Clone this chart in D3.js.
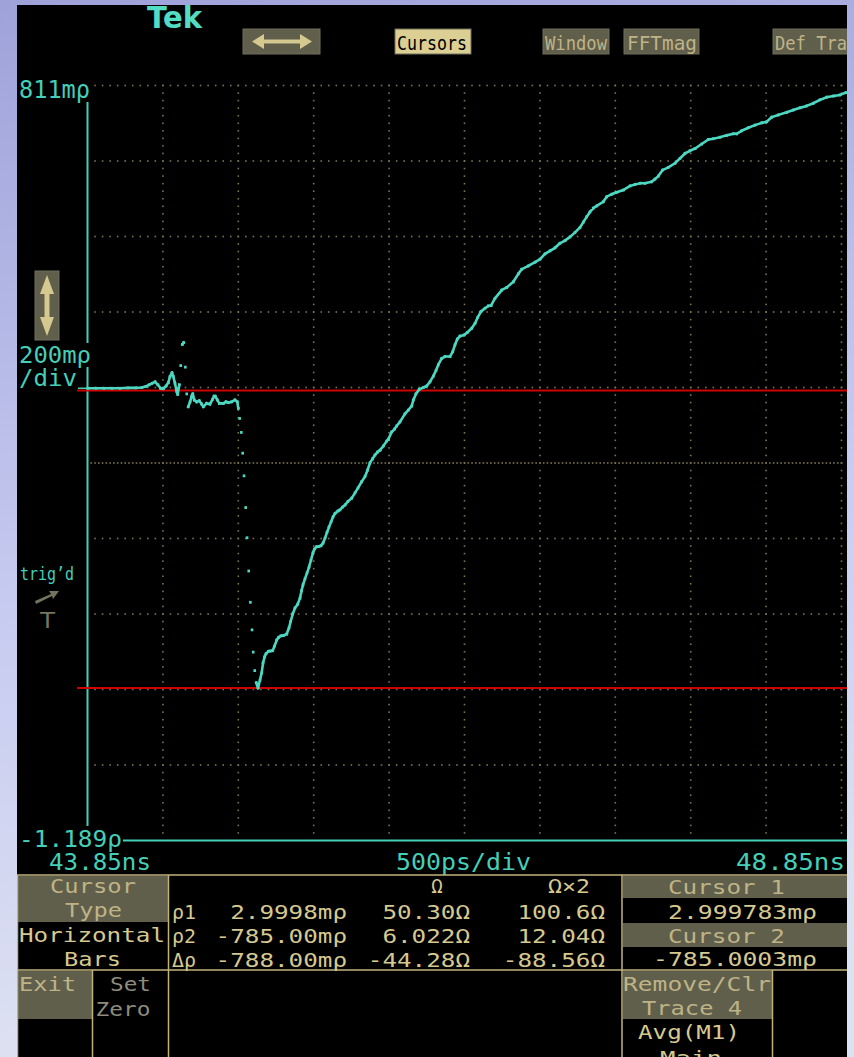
<!DOCTYPE html>
<html>
<head>
<meta charset="utf-8">
<script src="https://cdn.jsdelivr.net/npm/d3@7"></script>
<style>
  html, body { margin: 0; padding: 0; background: #fff; }
  svg { display: block; }
</style>
</head>
<body>
<svg id="scope" width="854" height="1057"></svg>
<script>
// TDR reflection trace: time (ns) and reflection coefficient (milli-rho)
const timeNs = [
  43.853, 43.906, 43.959, 44.012, 44.066, 44.119, 44.172, 44.211, 44.238, 44.258,
  44.278, 44.298, 44.317, 44.334, 44.353, 44.371, 44.386, 44.397, 44.410, 44.419,
  44.430, 44.442, 44.448, 44.459, 44.468, 44.479, 44.488, 44.499, 44.508, 44.518,
  44.530, 44.541, 44.548, 44.558, 44.574, 44.591, 44.607, 44.618, 44.640, 44.662,
  44.680, 44.689, 44.697, 44.711, 44.724, 44.751, 44.768, 44.784, 44.806, 44.828,
  44.843, 44.850, 44.859, 44.870, 44.879, 44.888, 44.899, 44.908, 44.919, 44.930,
  44.941, 44.949, 44.959, 44.969, 44.981, 44.994, 45.005, 45.014, 45.024, 45.034,
  45.049, 45.063, 45.078, 45.090, 45.105, 45.117, 45.133, 45.150, 45.171, 45.186,
  45.197, 45.211, 45.226, 45.244, 45.259, 45.269, 45.279, 45.292, 45.306, 45.319,
  45.332, 45.345, 45.355, 45.369, 45.385, 45.398, 45.412, 45.425, 45.438, 45.451,
  45.465, 45.478, 45.491, 45.511, 45.524, 45.541, 45.558, 45.577, 45.602, 45.624,
  45.644, 45.667, 45.690, 45.707, 45.723, 45.740, 45.756, 45.773, 45.790, 45.812,
  45.834, 45.845, 45.867, 45.886, 45.900, 45.922, 45.955, 45.977, 46.000, 46.011,
  46.028, 46.050, 46.077, 46.099, 46.121, 46.143, 46.161, 46.176, 46.199, 46.221,
  46.254, 46.272, 46.287, 46.302, 46.320, 46.347, 46.369, 46.398, 46.420, 46.438,
  46.459, 46.486, 46.508, 46.526, 46.552, 46.597, 46.630, 46.674, 46.707, 46.729,
  46.773, 46.818, 46.851, 46.884, 46.917, 46.950, 46.983, 47.016, 47.050, 47.083,
  47.116, 47.138, 47.160, 47.182, 47.204, 47.227, 47.270, 47.293, 47.326, 47.359,
  47.403, 47.448, 47.481, 47.514, 47.547, 47.591, 47.613, 47.635, 47.664, 47.701,
  47.746, 47.779, 47.812, 47.845, 47.879, 47.923, 47.967, 48.000, 48.044, 48.089,
  48.133, 48.155, 48.188, 48.232, 48.276, 48.321, 48.354, 48.387, 48.431, 48.487,
  48.530, 48.575, 48.619, 48.663, 48.707, 48.752, 48.796, 48.840, 48.878
];
const rhoMilli = [
  9, 9, 9, 9, 9, 10, 10, 11, 14, 18,
  22, 26, 18, 9, 8, 15, 24, 40, 50, 40,
  22, 0, -7, 18, 69, 125, 130, 65, -6, -40,
  -27, -12, -6, -22, -27, -24, -33, -40, -31, -33,
  -20, -12, -12, -22, -31, -31, -27, -29, -27, -22,
  -27, -44, -71, -108, -163, -223, -307, -387, -475, -558,
  -631, -690, -739, -771, -785, -764, -745, -719, -703, -694,
  -688, -687, -686, -674, -658, -651, -647, -646, -642, -626,
  -609, -589, -573, -563, -547, -528, -512, -496, -480, -465,
  -446, -427, -417, -411, -410, -408, -401, -388, -373, -359,
  -345, -332, -323, -316, -313, -306, -300, -291, -282, -268,
  -255, -239, -225, -208, -189, -178, -168, -160, -155, -144,
  -131, -126, -107, -99, -91, -80, -59, -49, -38, -22,
  -6, 6, 11, 15, 26, 41, 56, 71, 88, 93,
  93, 106, 124, 139, 147, 150, 157, 168, 181, 197,
  212, 221, 227, 228, 247, 269, 276, 291, 312, 324,
  333, 343, 351, 365, 373, 381, 393, 400, 410, 422,
  435, 449, 463, 476, 486, 492, 503, 516, 523, 528,
  534, 545, 549, 552, 552, 556, 563, 571, 587, 594,
  605, 618, 631, 638, 644, 656, 668, 670, 674, 679,
  683, 683, 691, 699, 706, 712, 715, 727, 733, 740,
  746, 752, 757, 764, 773, 780, 783, 786, 792
];

// Horizontal-bar cursors (milli-rho)
const cursorRho = [2.9998, -785.00];

// Scale settings
const timeStartNs = 43.85, timeEndNs = 48.85;
const rhoTop = 811, rhoBottom = -1189;
const divisions = 10;

// Labels
const yLabels = { top: "811mρ", scale: "200mρ", perDiv: "/div", bottom: "-1.189ρ" };
const xLabels = ["43.85ns", "500ps/div", "48.85ns"];
const menuTop = ["Cursors", "Window", "FFTmag", "Def Tra"];
const readRows = ["ρ1", "ρ2", "Δρ"];
const readRho = ["2.9998mρ", "-785.00mρ", "-788.00mρ"];
const readOhm = ["50.30Ω", "6.022Ω", "-44.28Ω"];
const readOhm2 = ["100.6Ω", "12.04Ω", "-88.56Ω"];
const cursorReadouts = ["2.999783mρ", "-785.0003mρ"];

const C = {
  teal: "#45cfb6",
  trace: "#4cd8c2",
  red: "#d10000",
  dot: "#7a7352",
  olive: "#5f5f4c",
  khaki: "#d6c98f",
  khakiDim: "#bfb386",
  line: "#c2b37c",
  gray: "#8d8c7d"
};
const MONO = "'DejaVu Sans Mono', monospace";

const svg = d3.select("#scope");
const defs = svg.append("defs");
const grad = defs.append("linearGradient").attr("id", "bg").attr("x1", 0).attr("y1", 0).attr("x2", 0.15).attr("y2", 1);
grad.append("stop").attr("offset", 0).attr("stop-color", "#9ea2d9");
grad.append("stop").attr("offset", 0.55).attr("stop-color", "#c6caf0");
grad.append("stop").attr("offset", 1).attr("stop-color", "#dde2f2");
defs.append("clipPath").attr("id", "screen").append("rect")
  .attr("x", 17).attr("y", 5).attr("width", 830).attr("height", 1052);

svg.append("rect").attr("width", 854).attr("height", 1057).attr("fill", "url(#bg)");
const scr = svg.append("g").attr("clip-path", "url(#screen)");
scr.append("rect").attr("x", 17).attr("y", 5).attr("width", 830).attr("height", 1052).attr("fill", "#000");

function label(g, str, x, yb, size, width, color, opts = {}) {
  const t = g.append("text")
    .attr("x", x).attr("y", yb)
    .attr("font-family", opts.family || MONO)
    .attr("font-size", size)
    .attr("font-weight", opts.weight || "normal")
    .attr("fill", color)
    .attr("text-anchor", opts.anchor || "start")
    .text(str);
  if (width) t.attr("textLength", width).attr("lengthAdjust", "spacingAndGlyphs");
  return t;
}

// Scales
const x = d3.scaleLinear().domain([timeStartNs, timeEndNs]).range([87.5, 841.5]);
const y = d3.scaleLinear().domain([rhoBottom, rhoTop]).range([840.5, 85.5]);
const divX = (x.range()[1] - x.range()[0]) / divisions;
const divY = (y.range()[0] - y.range()[1]) / divisions;

// Graticule: dotted rows and columns
const grid = scr.append("g");
const dots = [];
for (let r = 0; r < divisions; r++) {
  const yy = y(rhoTop - r * (rhoTop - rhoBottom) / divisions);
  const fine = r === divisions / 2;
  const step = fine ? divX / 20 : divX / 10;
  const n = fine ? 200 : 100;
  for (let k = 1; k <= n; k++) {
    const xx = x.range()[0] + k * step;
    if (r === 0 && xx < 92) continue;
    dots.push([xx, yy]);
  }
}
for (let c = 1; c <= divisions; c++) {
  const xx = x.range()[0] + c * divX;
  for (let k = 0; k < 100; k++) dots.push([xx, y.range()[1] + k * divY / 10]);
}
grid.selectAll("rect").data(dots).join("rect")
  .attr("x", d => d[0] - 0.8).attr("y", d => d[1] - 0.8)
  .attr("width", 1.6).attr("height", 1.6).attr("fill", C.dot);

// Axis lines
const ax = scr.append("g").attr("stroke", C.teal).attr("stroke-width", 2);
ax.append("line").attr("x1", 87.5).attr("x2", 87.5).attr("y1", 102).attr("y2", 343);
ax.append("line").attr("x1", 87.5).attr("x2", 87.5).attr("y1", 367).attr("y2", 826);
ax.append("line").attr("x1", 123).attr("x2", 847).attr("y1", y(rhoBottom)).attr("y2", y(rhoBottom));
ax.append("line").attr("x1", 78).attr("x2", 87).attr("y1", y(rhoMilli[0])).attr("y2", y(rhoMilli[0])).attr("stroke-width", 1.5);

// Cursor bars
scr.append("g").selectAll("line").data(cursorRho).join("line")
  .attr("x1", 77).attr("x2", 847)
  .attr("y1", d => y(d)).attr("y2", d => y(d))
  .attr("stroke", C.red).attr("stroke-width", 2);

// Trace: samples drawn as dots, joined unless the step between them is a fast edge
const pts = timeNs.map((t, i) => [x(t), y(rhoMilli[i])]);
let path = "";
for (let i = 1; i < pts.length; i++) {
  const [x0, y0] = pts[i - 1], [x1, y1] = pts[i];
  if (Math.abs(y1 - y0) < 9.9 && Math.abs(x1 - x0) < 10) path += `M${x0},${y0}L${x1},${y1}`;
}
const tr = scr.append("g");
tr.append("path").attr("d", path).attr("fill", "none")
  .attr("stroke", C.trace).attr("stroke-width", 2.6).attr("stroke-linecap", "square");
tr.selectAll("rect").data(pts).join("rect")
  .attr("x", d => d[0] - 1.3).attr("y", d => d[1] - 1.4)
  .attr("width", 2.6).attr("height", 2.8).attr("fill", C.trace);

// Vertical labels
label(scr, yLabels.top, 19, 97.5, 24, 71, C.teal);
label(scr, yLabels.scale, 19, 363, 23, 72, C.teal);
label(scr, yLabels.perDiv, 19, 386, 23, 58, C.teal);
label(scr, yLabels.bottom, 19, 847, 23, 103, C.teal);
label(scr, "trig’d", 20, 580, 17, 54, C.teal);

// Horizontal labels
label(scr, xLabels[0], 49, 870, 23, 102, C.teal);
label(scr, xLabels[1], 396, 870, 23, 135, C.teal);
label(scr, xLabels[2], 736, 870, 23, 109, C.teal);

// Header: logo and soft keys
label(scr, "Tek", 147, 28, 31, 55, "#52dcc4", { family: "'DejaVu Sans', sans-serif", weight: "bold" });
const keys = [
  { x: 243, w: 77, bg: C.olive },
  { x: 395, w: 76, bg: "#dccf93" },
  { x: 543, w: 66, bg: C.olive },
  { x: 624, w: 75, bg: C.olive },
  { x: 773, w: 80, bg: C.olive }
];
scr.append("g").selectAll("rect").data(keys).join("rect")
  .attr("x", d => d.x).attr("y", 29).attr("width", d => d.w).attr("height", 25)
  .attr("fill", d => d.bg).attr("stroke", "#6f6e5a").attr("stroke-width", 1);
label(scr, menuTop[0], 397, 50, 20, 70, "#000");
label(scr, menuTop[1], 545, 50, 20, 62, C.khakiDim);
label(scr, menuTop[2], 627, 50, 20, 70, C.khakiDim);
label(scr, menuTop[3], 775, 50, 20, 72, C.khakiDim);
// horizontal double arrow
scr.append("path")
  .attr("d", "M252,41.5 L264,34 L264,39.5 L300,39.5 L300,34 L312,41.5 L300,49 L300,43.5 L264,43.5 L264,49 Z")
  .attr("fill", C.khaki);

// Vertical-position key with double arrow
scr.append("rect").attr("x", 35).attr("y", 271).attr("width", 24).attr("height", 69)
  .attr("fill", C.olive).attr("stroke", "#6f6e5a");
scr.append("path")
  .attr("d", "M47,275 L54,294 L49.5,294 L49.5,317 L54,317 L47,336 L40,317 L44.5,317 L44.5,294 L40,294 Z")
  .attr("fill", C.khaki);

// Trigger indicator
scr.append("path")
  .attr("d", "M35,601 L51,594 L49,591 L59,591 L53,599 L52,596 L36,604 Z")
  .attr("fill", "#75745f");
label(scr, "T", 40, 628, 22, 15, "#75745f", { family: "'DejaVu Sans', sans-serif" });

// Bottom menu panel
const pan = scr.append("g");
const boxes = [
  [18, 876, 150, 46], [18, 971, 74, 48],
  [623, 876, 224, 22], [623, 923, 224, 24], [623, 971, 149, 48]
];
pan.selectAll("rect").data(boxes).join("rect")
  .attr("x", d => d[0]).attr("y", d => d[1]).attr("width", d => d[2]).attr("height", d => d[3])
  .attr("fill", C.olive);
const rules = [
  [17, 875, 847, 875], [17, 970, 847, 970],
  [17.5, 875, 17.5, 1057], [168.5, 875, 168.5, 1057], [622, 875, 622, 1057],
  [92.5, 970, 92.5, 1057], [772.5, 970, 772.5, 1057]
];
pan.selectAll("line").data(rules).join("line")
  .attr("x1", d => d[0]).attr("y1", d => d[1]).attr("x2", d => d[2]).attr("y2", d => d[3])
  .attr("stroke", C.line).attr("stroke-width", 1.5);

label(pan, "Cursor", 50, 892.5, 19, 86, C.khakiDim);
label(pan, "Type", 65, 917, 19, 57, C.khakiDim);
label(pan, "Horizontal", 19, 942, 19, 146, C.khaki);
label(pan, "Bars", 64, 966, 19, 57, C.khaki);
label(pan, "Exit", 19, 990.5, 19, 57, C.khakiDim);
label(pan, "Set", 110, 990.5, 19, 41, C.gray);
label(pan, "Zero", 95.5, 1015.5, 19, 55, C.gray);

// Readout table
const rowY = [919, 943, 967];
label(pan, "Ω", 437, 893, 19, null, C.khaki, { anchor: "middle" });
label(pan, "Ω×2", 548, 893, 19, 42, C.khaki);
readRows.forEach((s, i) => label(pan, s, 172, rowY[i], 19, 24, C.khaki));
readRho.forEach((s, i) => label(pan, s, 347 - s.length * 14.6, rowY[i], 19, s.length * 14.6, C.khaki));
readOhm.forEach((s, i) => label(pan, s, 470 - s.length * 14.6, rowY[i], 19, s.length * 14.6, C.khaki));
readOhm2.forEach((s, i) => label(pan, s, 605 - s.length * 14.6, rowY[i], 19, s.length * 14.6, C.khaki));

// Cursor readouts
label(pan, "Cursor 1", 668, 894, 19, 117, C.khakiDim);
label(pan, cursorReadouts[0], 668, 918.5, 19, 149, C.khaki);
label(pan, "Cursor 2", 668, 942.5, 19, 117, C.khakiDim);
label(pan, cursorReadouts[1], 653, 966, 19, 164, C.khaki);
label(pan, "Remove/Clr", 623, 991, 19, 148, C.khakiDim);
label(pan, "Trace 4", 642, 1015, 19, 100, C.khakiDim);
label(pan, "Avg(M1)", 638, 1039, 19, 102, C.khaki);
label(pan, "Main", 660, 1065, 19, 62, C.khaki);
</script>
</body>
</html>
